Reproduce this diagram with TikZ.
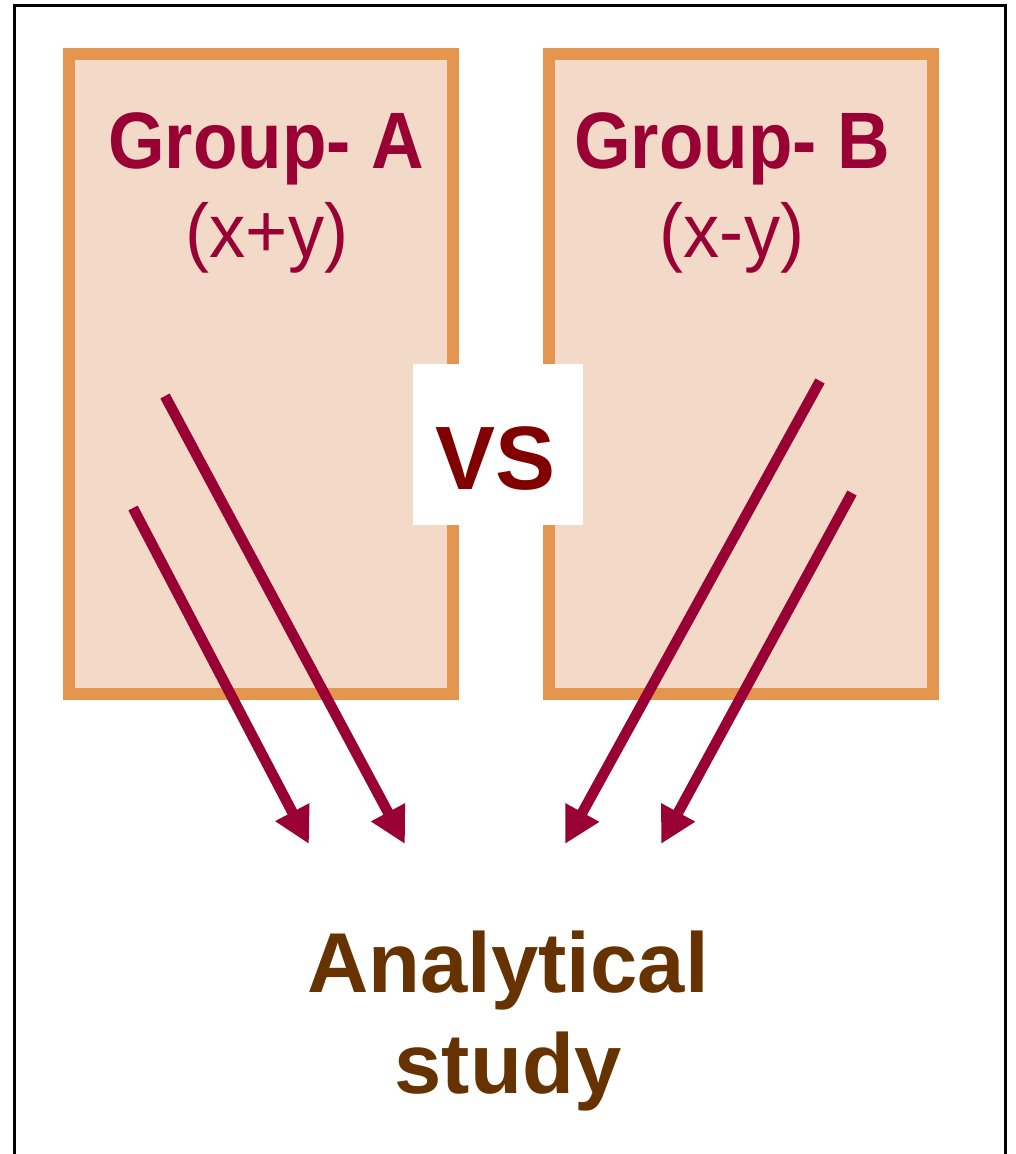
\documentclass[tikz,border=0pt]{standalone}
\usepackage{fontspec}
\setmainfont{Liberation Sans}
\usetikzlibrary{arrows.meta,positioning,calc}
\definecolor{GroupPeach}{HTML}{F3D9C7}
\definecolor{GroupOrange}{HTML}{E4954E}
\definecolor{GroupCrimson}{HTML}{990033}
\definecolor{VsMaroon}{HTML}{800000}
\definecolor{StudyBrown}{HTML}{663300}
\newcommand{\narrowtext}[2][0.91]{\scalebox{#1}[1]{#2}}

\begin{document}
\begin{tikzpicture}[x=1pt, y=-1pt, group/.style={draw=GroupOrange, line width=12pt, fill=GroupPeach, minimum width=384pt, minimum height=640pt, inner sep=0pt}, title/.style={anchor=base, text=GroupCrimson, font=\fontsize{80}{84}\selectfont\bfseries}, expr/.style={anchor=base, text=GroupCrimson, font=\fontsize{76}{80}\selectfont}, vsbox/.style={fill=white, minimum width=170pt, minimum height=161pt, inner sep=0pt}, arrow/.style={-{Triangle[length=36pt,width=36pt]}, line width=10.5pt, color=GroupCrimson}]
\useasboundingbox (0,0) rectangle (1015,1154);
\begin{scope}
\clip (0,0) rectangle (1015,1154);
\draw[line width=3pt] (14,5) rectangle (1005,1175);
\end{scope}
% the two groups
\node[group] (groupA) at (261,374) {};
\node[group] (groupB) at (741,374) {};
\node[title] (titleA) at ($(groupA.north)+(5,120)$) {\narrowtext{Group- A}};
\node[expr] (exprA) at ($(groupA.north)+(6,209)$) {\narrowtext[0.95]{(x+y)}};
\node[title] (titleB) at ($(groupB.north)+(-9,120)$) {\narrowtext{Group- B}};
\node[expr] (exprB) at ($(groupB.north)+(-9,209)$) {\narrowtext[0.95]{(x-y)}};
% versus
\node[vsbox] (vs) at (498,444.5) {};
\node[anchor=base, text=VsMaroon, font=\fontsize{90}{94}\selectfont\bfseries] (vslabel) at (495.5,489) {VS};
% result
\node[align=center, text=StudyBrown, font=\fontsize{85}{101}\selectfont\bfseries] (study) at (508,1021) {Analytical\\study};
\coordinate (fromA1) at (133,508); \coordinate (toA1) at (309,844);
\coordinate (fromA2) at (165,396); \coordinate (toA2) at (405,844);
\coordinate (fromB1) at (820,381); \coordinate (toB1) at (565,844);
\coordinate (fromB2) at (852,493); \coordinate (toB2) at (661,844);
\draw[arrow] (fromA1)--(toA1); \draw[arrow] (fromA2)--(toA2); \draw[arrow] (fromB1)--(toB1); \draw[arrow] (fromB2)--(toB2);
\end{tikzpicture}
\end{document}
